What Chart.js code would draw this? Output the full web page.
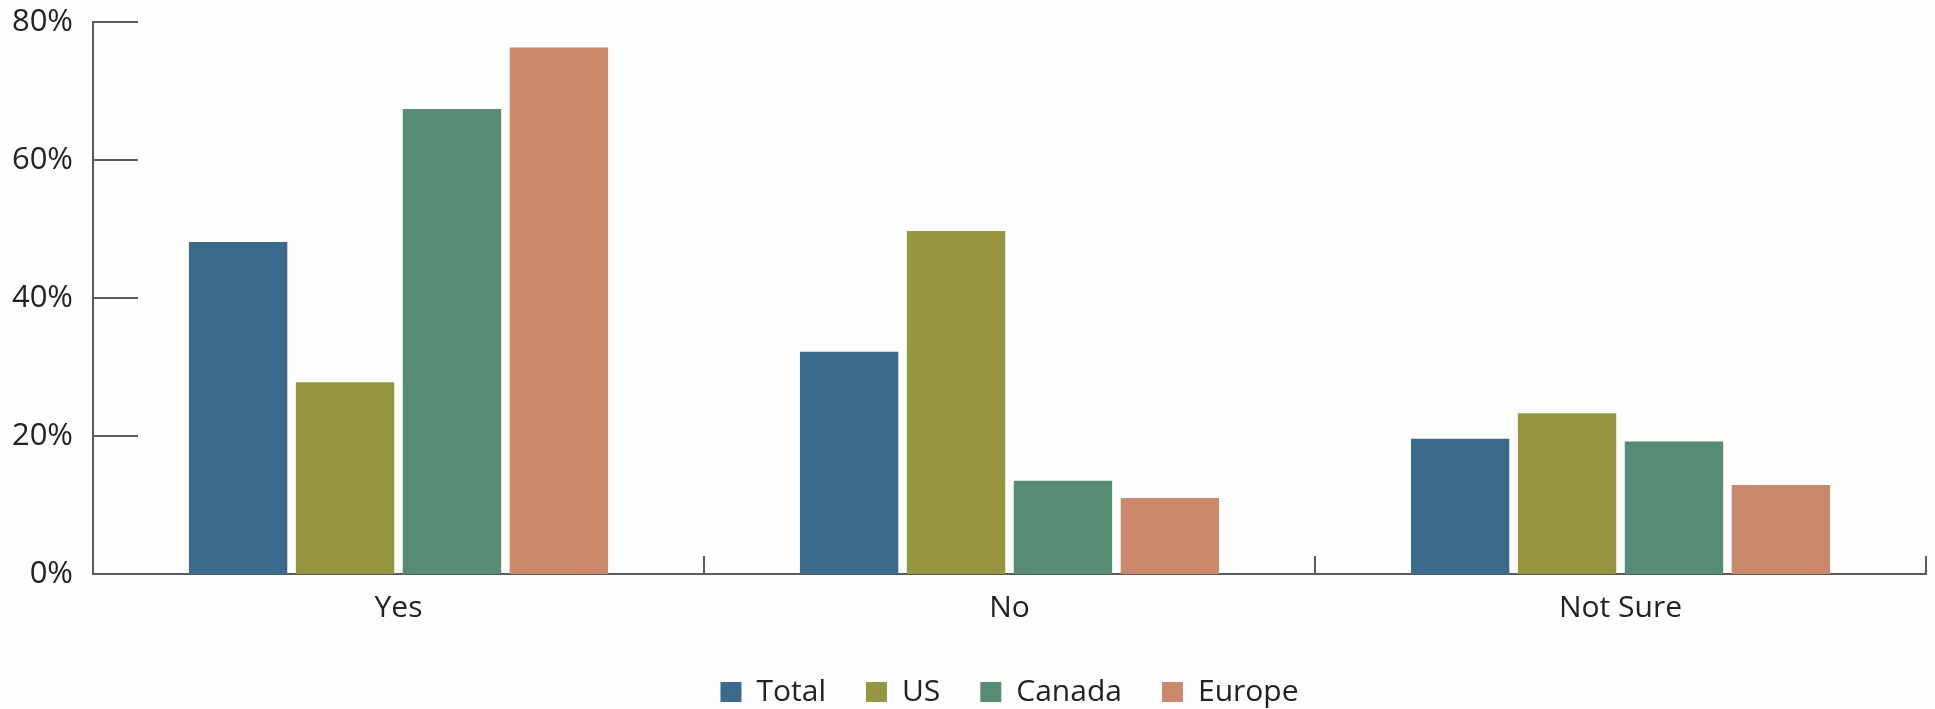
<!DOCTYPE html>
<html>
<head>
<meta charset="utf-8">
<script src="https://cdn.jsdelivr.net/npm/chart.js@4/dist/chart.umd.min.js"></script>
<style>
  html, body { margin: 0; padding: 0; background: #fdfdfd; }
  #answers { display: block; }
</style>
</head>
<body>
<canvas id="answers" width="1935" height="709"></canvas>
<script>
const categories = ['Yes', 'No', 'Not Sure'];
const seriesNames = ['Total', 'US', 'Canada', 'Europe'];
const totalValues = [48.1, 32.2, 19.6];
const usValues = [27.8, 49.7, 23.3];
const canadaValues = [67.4, 13.5, 19.2];
const europeValues = [76.3, 11.0, 12.9];
const yTicks = [0, 20, 40, 60, 80];

const seriesColors = ['#3a6a8c', '#969641', '#568c73', '#c9896a'];
const axisColor = '#5a5a5a';
const textColor = '#222222';
const fontFamily = "'Open Sans', sans-serif";

// short inward tick marks on the value axis and category dividers on the base line
const axisMarks = {
    id: 'axisMarks',
    afterDatasetsDraw(chart) {
        const ctx = chart.ctx;
        const x = chart.scales.x;
        const y = chart.scales.y;
        ctx.save();
        ctx.strokeStyle = axisColor;
        ctx.lineWidth = 2;
        ctx.beginPath();
        yTicks.forEach(v => {
            if (v === 0) return;
            const py = Math.round(y.getPixelForValue(v));
            ctx.moveTo(x.left, py);
            ctx.lineTo(x.left + 45, py);
        });
        for (let i = 1; i <= categories.length; i++) {
            const px = Math.round(x.left + x.width * i / categories.length);
            ctx.moveTo(px, y.bottom);
            ctx.lineTo(px, y.bottom - 18);
        }
        ctx.stroke();
        ctx.restore();
    }
};

const values = [totalValues, usValues, canadaValues, europeValues];
let datasets = []
seriesNames.forEach((name, i) => {
    datasets.push({
        label: name,
        data: values[i],
        backgroundColor: seriesColors[i],
        borderWidth: 0,
        categoryPercentage: 0.7,
        barPercentage: 0.92
    })
})

let answersChart = new Chart(document.getElementById('answers').getContext('2d'), {
    type: 'bar',
    data: {
        labels: categories,
        datasets: datasets
    },
    plugins: [axisMarks],
    options: {
        responsive: false,
        animation: false,
        layout: {
            // legend sits a little lower than the default box allows
            padding: { top: 22, right: 9, bottom: -8, left: 0 }
        },
        plugins: {
            tooltip: { enabled: false },
            legend: {
                position: 'bottom',
                fullSize: false,
                labels: {
                    color: textColor,
                    font: { family: fontFamily, size: 30 },
                    boxWidth: 21,
                    boxHeight: 20,
                    padding: 40
                }
            }
        },
        scales: {
            x: {
                afterFit(scale) { scale.height = 63; },
                grid: { display: false, drawTicks: false },
                border: { display: true, color: axisColor, width: 2 },
                ticks: {
                    color: textColor,
                    font: { family: fontFamily, size: 30 },
                    padding: 16
                }
            },
            y: {
                min: 0,
                max: 80,
                afterFit(scale) {
                    scale.width = 93;
                    scale.paddingTop = 0;
                    scale.paddingBottom = 0;
                },
                afterBuildTicks(scale) {
                    scale.ticks = yTicks.map(v => ({ value: v }));
                },
                grid: { display: false, drawTicks: false },
                border: { display: true, color: axisColor, width: 2 },
                ticks: {
                    color: textColor,
                    font: { family: fontFamily, size: 31 },
                    padding: 20,
                    callback: v => v + '%'
                }
            }
        }
    }
});
</script>
</body>
</html>
